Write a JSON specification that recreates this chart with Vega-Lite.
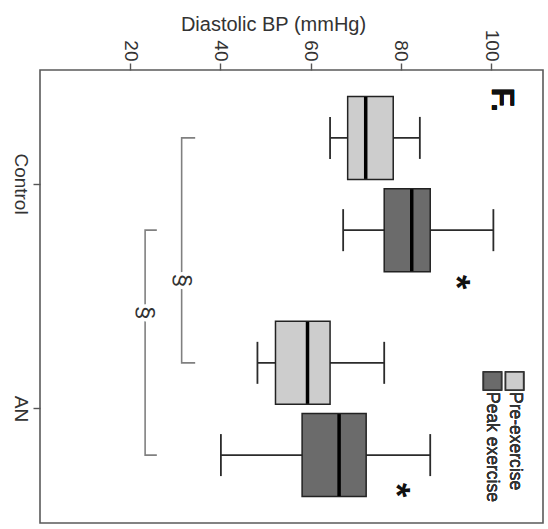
{
  "$schema": "https://vega.github.io/schema/vega-lite/v6.json",
  "width": 503,
  "height": 453,
  "autosize": {"type": "none"},
  "padding": {"left": 40, "top": 70, "right": 5, "bottom": 6},
  "background": "white",
  "config": {
    "view": {"stroke": "#5a5a5a", "strokeWidth": 1.6},
    "font": "Liberation Sans",
    "axis": {
      "domain": false,
      "grid": false,
      "tickColor": "#555555",
      "tickWidth": 1.4,
      "tickSize": 7,
      "labelColor": "#333333",
      "labelFont": "Liberation Sans",
      "titleFont": "Liberation Sans",
      "titleColor": "#333333",
      "titleFontWeight": "normal"
    }
  },
  "datasets": {
    "boxes": [
      {"group": "Control", "exercise": "Pre-exercise", "lower": 64.3, "q1": 68.2, "median": 72.2, "q3": 78.3, "upper": 84.2},
      {"group": "Control", "exercise": "Peak exercise", "lower": 67.2, "q1": 76.3, "median": 82.4, "q3": 86.5, "upper": 100.5},
      {"group": "AN", "exercise": "Pre-exercise", "lower": 48.2, "q1": 52.2, "median": 59.3, "q3": 64.3, "upper": 76.3},
      {"group": "AN", "exercise": "Peak exercise", "lower": 40.1, "q1": 58.1, "median": 66.3, "q3": 72.3, "upper": 86.5}
    ],
    "brackets": [
      {"bracket": "pre", "k": 1, "group": "Control", "exercise": "Pre-exercise", "x": 34.4},
      {"bracket": "pre", "k": 2, "group": "Control", "exercise": "Pre-exercise", "x": 31.4},
      {"bracket": "pre", "k": 3, "group": "AN", "exercise": "Pre-exercise", "x": 31.4},
      {"bracket": "pre", "k": 4, "group": "AN", "exercise": "Pre-exercise", "x": 34.4},
      {"bracket": "peak", "k": 1, "group": "Control", "exercise": "Peak exercise", "x": 25.9},
      {"bracket": "peak", "k": 2, "group": "Control", "exercise": "Peak exercise", "x": 23.3},
      {"bracket": "peak", "k": 3, "group": "AN", "exercise": "Peak exercise", "x": 23.3},
      {"bracket": "peak", "k": 4, "group": "AN", "exercise": "Peak exercise", "x": 25.9}
    ],
    "sections": [
      {"group": "Control", "exercise": "Pre-exercise", "x": 31.4, "label": "§"},
      {"group": "AN", "exercise": "Peak exercise", "x": 23.3, "label": "§"}
    ]
  },
  "layer": [
    {
      "data": {"name": "boxes"},
      "layer": [
        {
          "mark": {"type": "rule", "color": "#2b2b2b", "strokeWidth": 1.8},
          "encoding": {
            "x": {
              "field": "lower",
              "type": "quantitative",
              "scale": {"domain": [0, 111.5], "nice": false, "zero": false},
              "axis": {
                "orient": "top",
                "values": [20, 40, 60, 80, 100],
                "labelAngle": 90,
                "labelAlign": "right",
                "labelBaseline": "middle",
                "labelFontSize": 19,
                "labelPadding": 2,
                "title": "Diastolic BP (mmHg)",
                "titleFontSize": 20,
                "titleX": 233,
                "titleY": -40,
                "titleBaseline": "alphabetic"
              }
            },
            "x2": {"field": "upper"},
            "y": {
              "field": "group",
              "type": "nominal",
              "scale": {"domain": ["Control", "AN"], "paddingInner": 0, "paddingOuter": 0.007},
              "axis": {
                "orient": "left",
                "labelAngle": 90,
                "labelAlign": "center",
                "labelBaseline": "top",
                "labelFontSize": 19,
                "labelPadding": 4,
                "title": null
              }
            },
            "yOffset": {
              "field": "exercise",
              "type": "nominal",
              "scale": {"domain": ["Pre-exercise", "Peak exercise"], "paddingInner": 0.1, "paddingOuter": 0.269}
            }
          }
        },
        {
          "mark": {"type": "bar", "stroke": "#222222", "strokeWidth": 1.5},
          "encoding": {
            "x": {"field": "q1", "type": "quantitative"},
            "x2": {"field": "q3"},
            "y": {"field": "group", "type": "nominal"},
            "yOffset": {"field": "exercise", "type": "nominal"},
            "fill": {
              "field": "exercise",
              "type": "nominal",
              "scale": {"domain": ["Pre-exercise", "Peak exercise"], "range": ["#cdcdcd", "#6b6b6b"]},
              "legend": null
            }
          }
        },
        {
          "mark": {"type": "tick", "color": "#000000", "thickness": 3.5, "size": 82, "opacity": 1},
          "encoding": {
            "x": {"field": "median", "type": "quantitative"},
            "y": {"field": "group", "type": "nominal"},
            "yOffset": {"field": "exercise", "type": "nominal"}
          }
        },
        {
          "mark": {"type": "tick", "color": "#2b2b2b", "thickness": 1.8, "size": 42, "opacity": 1},
          "encoding": {
            "x": {"field": "lower", "type": "quantitative"},
            "y": {"field": "group", "type": "nominal"},
            "yOffset": {"field": "exercise", "type": "nominal"}
          }
        },
        {
          "mark": {"type": "tick", "color": "#2b2b2b", "thickness": 1.8, "size": 42, "opacity": 1},
          "encoding": {
            "x": {"field": "upper", "type": "quantitative"},
            "y": {"field": "group", "type": "nominal"},
            "yOffset": {"field": "exercise", "type": "nominal"}
          }
        },
        {
          "data": {"name": "brackets"},
          "mark": {"type": "line", "color": "#808080", "strokeWidth": 1.6},
          "encoding": {
            "x": {"field": "x", "type": "quantitative"},
            "y": {"field": "group", "type": "nominal"},
            "yOffset": {"field": "exercise", "type": "nominal"},
            "detail": {"field": "bracket"},
            "order": {"field": "k", "type": "quantitative"}
          }
        },
        {
          "data": {"values": [{"group": "Control", "exercise": "Peak exercise", "x": 92.0, "label": "*"}]},
          "mark": {"type": "text", "angle": 90, "fontSize": 37, "fontWeight": "bold", "color": "#111111", "align": "center", "baseline": "middle", "dx": 52},
          "encoding": {
            "x": {"field": "x", "type": "quantitative"},
            "y": {"field": "group", "type": "nominal"},
            "yOffset": {"field": "exercise", "type": "nominal"},
            "text": {"field": "label"}
          }
        },
        {
          "data": {"values": [{"group": "AN", "exercise": "Peak exercise", "x": 78.6, "label": "*"}]},
          "mark": {"type": "text", "angle": 90, "fontSize": 37, "fontWeight": "bold", "color": "#111111", "align": "center", "baseline": "middle", "dx": 35},
          "encoding": {
            "x": {"field": "x", "type": "quantitative"},
            "y": {"field": "group", "type": "nominal"},
            "yOffset": {"field": "exercise", "type": "nominal"},
            "text": {"field": "label"}
          }
        },
        {
          "mark": {"type": "text", "angle": 90, "fontSize": 31, "fontWeight": "bold", "color": "#111111", "align": "right", "baseline": "alphabetic", "dx": -26},
          "encoding": {
            "x": {"datum": 100.3},
            "y": {"datum": "Control"},
            "yOffset": {"datum": "Pre-exercise"},
            "text": {"value": "F."}
          }
        },
        {
          "mark": {"type": "point", "shape": "square", "size": 324, "fill": "#cdcdcd", "stroke": "#333333", "strokeWidth": 1.5, "opacity": 1, "fillOpacity": 1, "yOffset": -28},
          "encoding": {
            "x": {"datum": 105.2},
            "y": {"datum": "AN"}
          }
        },
        {
          "mark": {"type": "point", "shape": "square", "size": 324, "fill": "#6b6b6b", "stroke": "#333333", "strokeWidth": 1.5, "opacity": 1, "fillOpacity": 1, "yOffset": -28},
          "encoding": {
            "x": {"datum": 100.3},
            "y": {"datum": "AN"}
          }
        },
        {
          "mark": {"type": "text", "angle": 90, "fontSize": 17.5, "color": "#333333", "align": "left", "baseline": "middle", "dx": -17},
          "encoding": {
            "x": {"datum": 105.3},
            "y": {"datum": "AN"},
            "text": {"value": "Pre-exercise"}
          }
        },
        {
          "mark": {"type": "text", "angle": 90, "fontSize": 17.5, "color": "#333333", "align": "left", "baseline": "middle", "dx": -17},
          "encoding": {
            "x": {"datum": 100.2},
            "y": {"datum": "AN"},
            "text": {"value": "Peak exercise"}
          }
        }
      ]
    },
    {
      "data": {"name": "sections"},
      "layer": [
        {
          "mark": {"type": "text", "angle": 90, "fontSize": 24, "color": "white", "stroke": "white", "strokeWidth": 7, "align": "center", "baseline": "middle"},
          "encoding": {
            "x": {"field": "x", "type": "quantitative"},
            "y": {"field": "group", "type": "nominal"},
            "yOffset": {
              "field": "exercise",
              "type": "nominal",
              "scale": {"domain": ["Peak exercise", "Pre-exercise"], "paddingInner": 0.5, "paddingOuter": 0.0833}
            },
            "text": {"field": "label"}
          }
        },
        {
          "mark": {"type": "text", "angle": 90, "fontSize": 24, "color": "#333333", "align": "center", "baseline": "middle"},
          "encoding": {
            "x": {"field": "x", "type": "quantitative"},
            "y": {"field": "group", "type": "nominal"},
            "yOffset": {"field": "exercise", "type": "nominal"},
            "text": {"field": "label"}
          }
        }
      ]
    }
  ],
  "resolve": {"scale": {"yOffset": "independent"}}
}
